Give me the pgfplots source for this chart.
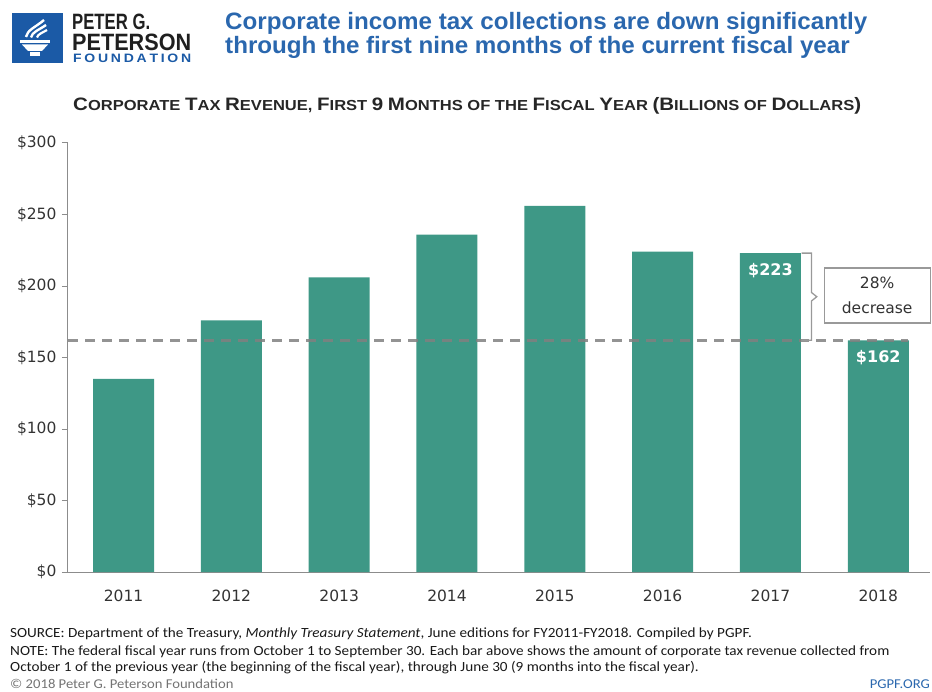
\documentclass[border=0pt]{standalone}
\usepackage{pgfplots}
\pgfplotsset{compat=1.18}
\usepackage{fontspec}
\setmainfont{DejaVu Sans}
\newfontfamily\titlef[FakeStretch=1.02]{Liberation Sans Bold}
\newfontfamily\subf[FakeStretch=1.14]{Liberation Sans Bold}
\newfontfamily\logof[FakeStretch=0.85]{Liberation Sans Bold}
\newfontfamily\footf[FakeStretch=1.085]{Carlito}
\newfontfamily\dejavu{DejaVu Sans}
\newfontfamily\dejavub{DejaVu Sans Bold}
\definecolor{barteal}{HTML}{3E9886}
\definecolor{titleblue}{HTML}{2A67AE}
\definecolor{logoblue}{HTML}{1B5AA6}
\definecolor{txt}{HTML}{333333}
\newcommand\Bg[1]{{\fontsize{18}{18}\selectfont #1}}
\begin{document}
\begin{tikzpicture}
\begin{scope}[x=1pt,y=-1pt]
\path[use as bounding box] (0,0) rectangle (932,692);
% logo
\fill[logoblue] (12,13) rectangle (63,63);
\fill[white] (20,40) rectangle (50,43);
\fill[white] (22,44.5) -- (48,44.5) -- (42,51) -- (28,51) -- cycle;
\fill[white] (30,52) rectangle (40,56);
\draw[white, line width=2.4pt] (26,37) .. controls (27,30) and (36,27) .. (44,20);
\draw[white, line width=2.4pt] (31,37.5) .. controls (32,32) and (39,30) .. (46,25);
\draw[white, line width=2.2pt] (37,37.5) .. controls (38,34) and (42,33) .. (47,30);
\node[anchor=north west, inner sep=0pt] at (72,14) {\vbox{\offinterlineskip
  \hbox{\color{black!88}\resizebox{78pt}{15.5pt}{\logof PETER G.}}\vskip4pt
  \hbox{\color{black!88}\resizebox{119pt}{16.5pt}{\logof PETERSON}}\vskip3.5pt
  \hbox{\kern1pt\color{logoblue}\resizebox{118pt}{8.5pt}{\logof F\,O\,U\,N\,D\,A\,T\,I\,O\,N}}}};
% title
\node[anchor=base west, inner sep=0pt, text=titleblue] at (225,30) {\titlef\fontsize{23.7}{24}\selectfont Corporate income tax collections are down significantly};
\node[anchor=base west, inner sep=0pt, text=titleblue] at (225,54) {\titlef\fontsize{23.7}{24}\selectfont through the first nine months of the current fiscal year};
% subtitle
\node[anchor=base west, inner sep=0pt, text=black!85] at (73,111) {\subf\fontsize{14.5}{15}\selectfont \Bg{C}ORPORATE \Bg{T}AX \Bg{R}EVENUE, \Bg{F}IRST \Bg{9} \Bg{M}ONTHS OF THE \Bg{F}ISCAL \Bg{Y}EAR \Bg{(B}ILLIONS OF \Bg{D}OLLARS\Bg{)}};
% footer
\node[anchor=base west, inner sep=0pt, text=black!90] at (10,637) {\footf\fontsize{14}{14}\selectfont SOURCE: Department of the Treasury, \textit{Monthly Treasury Statement}, June editions for FY2011-FY2018. Compiled by PGPF.};
\node[anchor=base west, inner sep=0pt, text=black!90] at (10,655) {\footf\fontsize{14}{14}\selectfont NOTE: The federal fiscal year runs from October 1 to September 30. Each bar above shows the amount of corporate tax revenue collected from};
\node[anchor=base west, inner sep=0pt, text=black!90] at (10,671) {\footf\fontsize{14}{14}\selectfont October 1 of the previous year (the beginning of the fiscal year), through June 30 (9 months into the fiscal year).};
\node[anchor=base west, inner sep=0pt, text=black!55] at (10,688) {\footf\fontsize{13.5}{14}\selectfont \textcopyright\ 2018 Peter G. Peterson Foundation};
\node[anchor=base east, inner sep=0pt, text=titleblue] at (930,688) {\footf\fontsize{13.5}{14}\selectfont PGPF.ORG};
\end{scope}
\begin{axis}[
  at={(68pt,-572pt)}, anchor=south west,
  width=862pt, height=429pt, scale only axis,
  xmin=-0.515, xmax=7.48, ymin=0, ymax=300,
  axis x line*=bottom, axis y line*=left,
  axis line style={-, draw=black!45, line width=1pt},
  xtick={0,...,7}, xticklabels={2011,2012,2013,2014,2015,2016,2017,2018},
  x tick style={draw=none},
  xticklabel style={yshift=-8pt},
  ytick={0,50,...,300},
  yticklabels={\$0,\$50,\$100,\$150,\$200,\$250,\$300},
  yticklabel style={xshift=-2pt},
  tick align=outside, major tick length=6pt,
  y tick style={draw=black!45, line width=1pt},
  tick label style={font=\dejavu\fontsize{15.5}{16}\selectfont, text=black!80},
  clip=false,
]
\addplot[ybar, bar width=61pt, bar shift=0pt, fill=barteal, draw=none]
  coordinates {(0,135) (1,176) (2,206) (3,236) (4,256) (5,224) (6,223) (7,162)};
\addplot[black!50, opacity=0.85, line width=2.6pt, dash pattern=on 10pt off 7pt]
  coordinates {(-0.515,162) (7.28,162)};
\node[text=white, font=\dejavub\fontsize{16}{16}\selectfont] at (axis cs:6,210.5) {\$223};
\node[text=white, font=\dejavub\fontsize{16}{16}\selectfont] at (axis cs:7,149.7) {\$162};
\draw[black!40, line width=1.3pt] (axis cs:6.29,223) -- (axis cs:6.38,223) -- (axis cs:6.38,195.5) -- (axis cs:6.43,192.5) -- (axis cs:6.38,189.5) -- (axis cs:6.38,162) -- (axis cs:6.29,162);
\node[draw=black!40, line width=1.3pt, fill=white, minimum width=106pt, minimum height=55pt, inner sep=0pt, align=center, text=txt, font=\dejavu\fontsize{15.5}{25}\selectfont] at (axis cs:6.99,193.4) {28\%\\decrease};
\end{axis}
\end{tikzpicture}
\end{document}
